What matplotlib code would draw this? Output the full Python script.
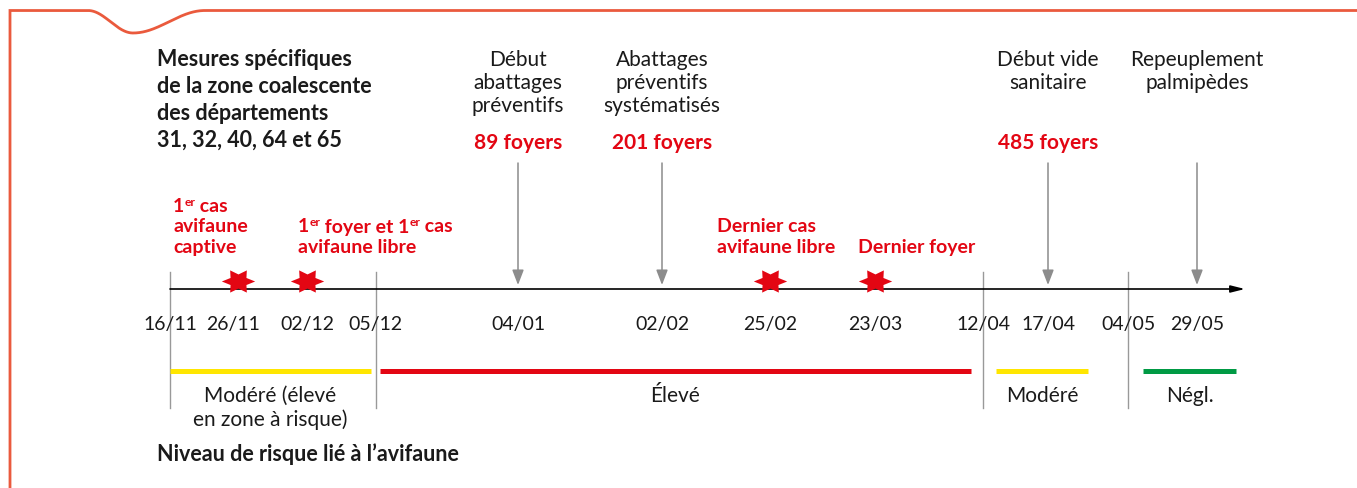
import re
import numpy as np
import matplotlib
matplotlib.use("Agg")
import matplotlib.pyplot as plt
from matplotlib.path import Path

plt.rcParams['font.family'] = ['Lato', 'DejaVu Sans']

# ---------------- data ----------------
dates = ["16/11", "26/11", "02/12", "05/12", "04/01", "02/02",
         "25/02", "23/03", "12/04", "17/04", "04/05", "29/05"]
date_pos = [170, 233, 307, 375, 518, 662, 770, 875, 983, 1048, 1128, 1197]

separator_pos = [170, 376, 983, 1128]

star_pos = [238, 307, 770, 875]
# text in {...} is written as superscript
star_labels = ["1{er} cas\navifaune\ncaptive",
               "1{er} foyer et 1{er} cas\navifaune libre",
               "Dernier cas\navifaune libre",
               "Dernier foyer"]
star_label_x = [173, 298, 717, 858]

arrow_pos = [518, 662, 1048, 1197]
arrow_labels = ["Début\nabattages\npréventifs",
                "Abattages\npréventifs\nsystématisés",
                "Début vide\nsanitaire",
                "Repeuplement\npalmipèdes"]
foyers = ["89 foyers", "201 foyers", "485 foyers", ""]

risk_levels = ["Modéré (élevé\nen zone à risque)", "Élevé", "Modéré", "Négl."]
risk_start = [170, 380, 996, 1143]
risk_end = [371, 971, 1088, 1236]
risk_colors = ["#FFE600", "#E30613", "#FFE600", "#009A44"]

title_text = "Mesures spécifiques\nde la zone coalescente\ndes départements\n31, 32, 40, 64 et 65"
footer_text = "Niveau de risque lié à l’avifaune"

RED = "#E30613"
GRAY = "#8C8C8C"
FRAME = "#EA5A3D"
TXT = "#1A1A1A"

# ---------------- figure ----------------
W, H = 1357, 488
fig = plt.figure(figsize=(W / 100, H / 100), dpi=100)
ax = fig.add_axes([0, 0, 1, 1])
ax.set_xlim(0, W)
ax.set_ylim(H, 0)
ax.axis("off")
renderer = fig.canvas.get_renderer()

# frame with a wave at top-left
fx = np.linspace(10, W, 2000)
fy = np.full_like(fx, 10.5)
m1 = (fx >= 88) & (fx <= 133)
fy[m1] = 10.5 + 22.5 * (1 - np.cos(np.pi * (fx[m1] - 88) / 45)) / 2
m2 = (fx > 133) & (fx <= 205)
fy[m2] = 33 - 22.5 * (1 - np.cos(np.pi * (fx[m2] - 133) / 72)) / 2
ax.plot(np.r_[10, fx], np.r_[H + 5, fy], color=FRAME, lw=2.0, solid_joinstyle="miter")


def multiline(x, y0, text, dy, **kw):
    for i, line in enumerate(text.split("\n")):
        ax.text(x, y0 + i * dy, line, va="baseline", **kw)


def rich_line(x, y, line, size, **kw):
    """Left-aligned line where {...} parts are superscripts."""
    parts = re.split(r"(\{.*?\})", line)
    for p in parts:
        if not p:
            continue
        if p.startswith("{"):
            t = ax.text(x, y - 6.5, p[1:-1], fontsize=size * 0.62, va="baseline",
                        ha="left", **kw)
        else:
            t = ax.text(x, y, p, fontsize=size, va="baseline", ha="left", **kw)
        bb = t.get_window_extent(renderer=renderer)
        x += bb.width


# title
multiline(157, 66, title_text, 26.9, fontsize=15.5, fontweight="bold", color=TXT, ha="left")

# main timeline
ax.annotate("", xy=(1245, 289), xytext=(date_pos[0], 289),
            arrowprops=dict(arrowstyle="-|>,head_length=0.6,head_width=0.15",
                            color="black", lw=1.2, mutation_scale=14,
                            shrinkA=0, shrinkB=0))

# separators
for x in separator_pos:
    ax.plot([x, x], [272, 408], color="#999999", lw=1.0)

# date labels
for d, x in zip(dates, date_pos):
    ax.text(x, 330, d, ha="center", va="baseline", fontsize=14, color=TXT)

# arrows with top labels
for x, lab, fo in zip(arrow_pos, arrow_labels, foyers):
    ax.annotate("", xy=(x, 285), xytext=(x, 163),
                arrowprops=dict(arrowstyle="-|>,head_length=0.65,head_width=0.25",
                                color=GRAY, lw=1.1, mutation_scale=14,
                                shrinkA=0, shrinkB=0))
    multiline(x, 66, lab, 23, fontsize=15, color=TXT, ha="center")
    if fo:
        ax.text(x, 149, fo, ha="center", va="baseline", fontsize=15,
                fontweight="bold", color=RED)

# stars
r_in = 0.55
ang = np.deg2rad(np.arange(12) * 30)
rad = np.where(np.arange(12) % 2 == 0, 1.0, r_in)
sv = np.column_stack([rad * np.cos(ang), 0.77 * rad * np.sin(ang)])
sv = np.vstack([sv, sv[:1]])
star_marker = Path(sv, closed=True)
ax.scatter(star_pos, [281] * len(star_pos), marker=star_marker, s=24 ** 2,
           color=RED, linewidths=0, zorder=5)

# star labels (bottom aligned)
for x, lab in zip(star_label_x, star_labels):
    lines = lab.split("\n")
    n = len(lines) - 1
    for i, line in enumerate(lines):
        rich_line(x, 253 - (n - i) * 20.5, line, 14, fontweight="bold", color=RED)

# risk bars
for s, e, c, lab in zip(risk_start, risk_end, risk_colors, risk_levels):
    ax.plot([s, e], [371, 371], color=c, lw=3.6, solid_capstyle="butt")
    multiline((s + e) / 2, 402, lab, 24.5, fontsize=15, color=TXT, ha="center")

# footer
ax.text(157, 461, footer_text, ha="left", va="baseline", fontsize=15.5,
        fontweight="bold", color=TXT)

fig.savefig("out.png", dpi=100)
